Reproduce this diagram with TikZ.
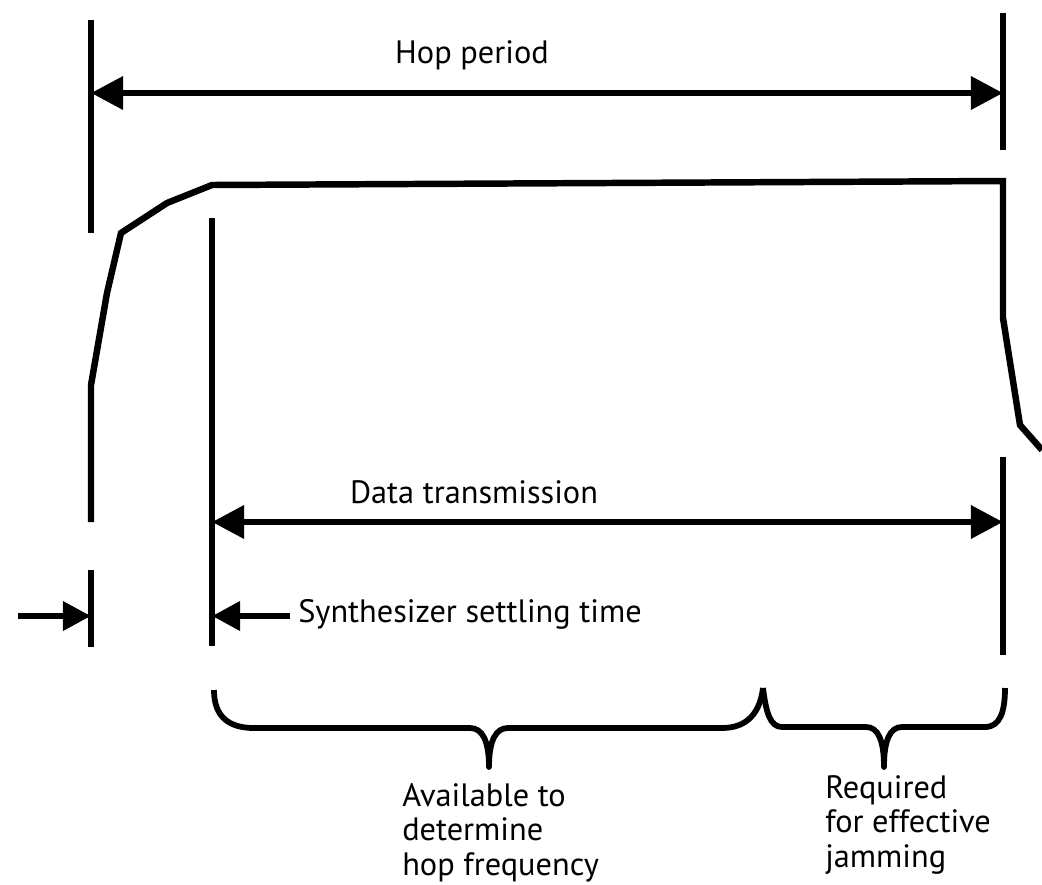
\documentclass[tikz,border=0pt]{standalone}
\usepackage{fontspec}
\setmainfont{PT Sans}
\usepackage{tikz}
\usetikzlibrary{arrows.meta,positioning,calc}
\tikzstyle{Mylabel} = [inner sep=0pt, text=black]
\tikzset{
    marker/.style={
        line width=3.6pt,
    },
    wave/.style={
        line width=4.6pt,
        line join=miter,
    },
    brace/.style={
        line width=4.1pt,
        line join=round,
    },
    span/.style={
        line width=4.6pt,
        -{Triangle[length=0.7cm,width=0.7cm]},
    },
    bigspan/.style={
        line width=4.6pt,
        {Triangle[length=0.8cm,width=0.8cm]}-{Triangle[length=0.8cm,width=0.8cm]},
    },
}

\begin{document}
\begin{tikzpicture}[
    x=0.025cm,
    y=-0.025cm,
    font=\fontsize{23}{24.5}\selectfont]

\useasboundingbox (0,0) rectangle (1042,884);

% Time markers
\coordinate (start_top) at (91,20);
\coordinate (start_mid) at (91,233);
\coordinate (start_low) at (91,570);
\coordinate (start_bot) at (91,647);
\coordinate (settle_top) at (212,218);
\coordinate (settle_bot) at (212,646);
\coordinate (end_top) at (1003,13);
\coordinate (end_mid) at (1003,150);
\coordinate (end_low) at (1003,457);
\coordinate (end_bot) at (1003,655);

\draw [marker] (start_top) -- (start_mid);
\draw [marker] (start_low) -- (start_bot);
\draw [marker] (settle_top) -- (settle_bot);
\draw [marker] (end_top) -- (end_mid);
\draw [marker] (end_low) -- (end_bot);

% Synthesizer output
\draw [wave]
    (91,522) -- (91,385) -- (107,293) -- (121,233) -- (167,203)
    -- (212,185) -- (1003,181) -- (1003,318) -- (1020,425) -- (1042,450);

% Hop period
\coordinate (hop_l) at (start_top |- 0,93);
\coordinate (hop_r) at (end_top |- 0,93);
\draw [bigspan] (hop_l) -- (hop_r);
\node [Mylabel, anchor=base] (hop_lab) at (472,63) {Hop period};

% Data transmission
\coordinate (data_l) at (settle_top |- 0,522);
\coordinate (data_r) at (end_low |- 0,522);
\draw [bigspan] (data_l) -- (data_r);
\node [Mylabel, anchor=base] (data_lab) at (474,503) {Data transmission};

% Settling time
\coordinate (synth_tail) at (290,616);
\coordinate (lead_tail) at (18,616);
\draw [span] (synth_tail) -- (settle_bot |- synth_tail);
\draw [span] (lead_tail) -- (start_bot |- lead_tail);
\node [Mylabel, anchor=base west] (synth_lab) at (298,622) {Synthesizer settling time};

% Braces
\coordinate (avail_l) at (214,690);
\coordinate (split) at (763,688);
\coordinate (req_r) at (1005,688);
\coordinate (avail_tip) at (489,767);
\coordinate (req_tip) at (884,767);

\draw [brace] (avail_l)
    .. controls (214,716) and (228,728) .. (254,728) -- (470,728)
    .. controls (482,728) and (489,740) .. (avail_tip)
    .. controls (489,740) and (496,728) .. (508,728) -- (722,728)
    .. controls (748,728) and (760,712) .. (split);
\draw [brace] (split)
    .. controls (766,712) and (770,727) .. (782,727) -- (866,727)
    .. controls (878,727) and (884,740) .. (req_tip)
    .. controls (884,740) and (890,727) .. (902,727) -- (985,727)
    .. controls (1000,727) and (1005,712) .. (req_r);

\node [Mylabel, anchor=north west, align=left] (avail_lab) at (402,783)
{
    Available to\\
    determine\\
    hop frequency
};
\node [Mylabel, anchor=north west, align=left] (req_lab) at (825,775)
{
    Required\\
    for effective\\
    jamming
};

\end{tikzpicture}
\end{document}
